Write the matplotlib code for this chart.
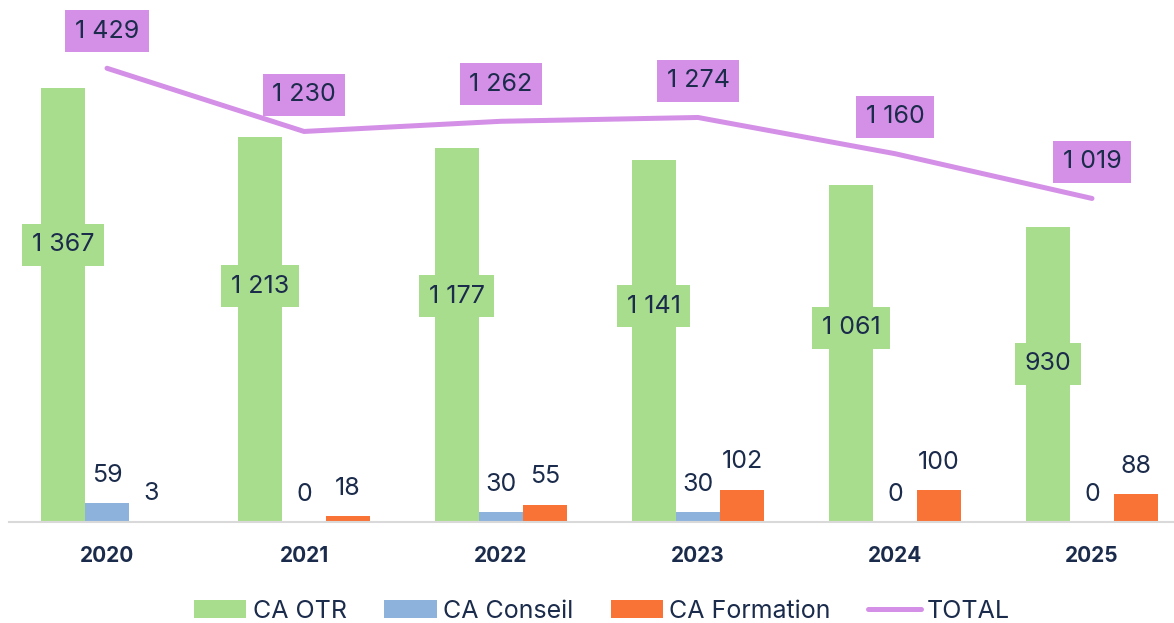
import matplotlib
matplotlib.use("Agg")
import matplotlib.pyplot as plt
import numpy as np

plt.rcParams['font.family'] = ['Inter', 'DejaVu Sans']

years = ['2020', '2021', '2022', '2023', '2024', '2025']
ca_otr = [1367, 1213, 1177, 1141, 1061, 930]
ca_conseil = [59, 0, 30, 30, 0, 0]
ca_formation = [3, 18, 55, 102, 100, 88]
total = [1429, 1230, 1262, 1274, 1160, 1019]

GREEN = '#a9dd8e'
BLUE = '#8db3dd'
ORANGE = '#f97236'
VIOLET = '#d48fe6'
NAVY = '#1b2b4b'


def fmt(v):
    # thousands separated by a space, French style
    return f"{v:,}".replace(",", " ")


fig = plt.figure(figsize=(11.74, 6.23), dpi=100)
ax = fig.add_axes([8.5 / 1174, 101 / 623, 1 - 8.5 / 1174, 522 / 623])

x = np.arange(len(years))
w = 0.2234

b1 = ax.bar(x - w, ca_otr, w, color=GREEN, label='CA OTR', zorder=2)
b2 = ax.bar(x, ca_conseil, w, color=BLUE, label='CA Conseil', zorder=2)
b3 = ax.bar(x + w, ca_formation, w, color=ORANGE, label='CA Formation', zorder=2)
ln, = ax.plot(x, total, color=VIOLET, lw=3.6, solid_capstyle='round',
              solid_joinstyle='round', label='TOTAL', zorder=3)

# labels inside the OTR bars, on a green box
for xi, v in zip(x, ca_otr):
    ax.text(xi - w, 0.858 * v - 299, fmt(v), ha='center', va='center',
            fontsize=18, color=NAVY, zorder=4,
            bbox=dict(boxstyle='square,pad=0.38', fc=GREEN, ec='none'))

# small labels above the Conseil / Formation bars
for off, vals in ((0, ca_conseil), (w, ca_formation)):
    for xi, v in zip(x, vals):
        ax.annotate(fmt(v), (xi + off, v), xytext=(0, 20), textcoords='offset points',
                    ha='center', va='center', fontsize=18, color=NAVY, zorder=4)

# TOTAL labels on violet boxes
for xi, v in zip(x, total):
    ax.annotate(fmt(v), (xi, v), xytext=(0, 26.6), textcoords='offset points',
                ha='center', va='center', fontsize=18, color=NAVY, zorder=5,
                bbox=dict(boxstyle='square,pad=0.38', fc=VIOLET, ec='none'))

ax.set_xlim(-0.5, (1174 - 107) / 197)
ax.set_ylim(0, 1644)
ax.set_xticks(x)
ax.set_xticklabels(years, fontsize=15, fontweight='bold', color=NAVY)
ax.tick_params(axis='x', length=0, pad=17.5)
ax.set_yticks([])
for side in ('left', 'right', 'top'):
    ax.spines[side].set_visible(False)
ax.spines['bottom'].set_color('#d9d9d9')
ax.spines['bottom'].set_linewidth(1.5)
ax.patch.set_alpha(0)

fig.legend(handles=[b1, b2, b3, ln], loc='center', bbox_to_anchor=(602 / 1174, 12 / 623),
           ncol=4, frameon=False, fontsize=18, labelcolor=NAVY, handlelength=2.1,
           handleheight=0.7, handletextpad=0.25, columnspacing=1.5)

fig.savefig('out.png', dpi=100)
